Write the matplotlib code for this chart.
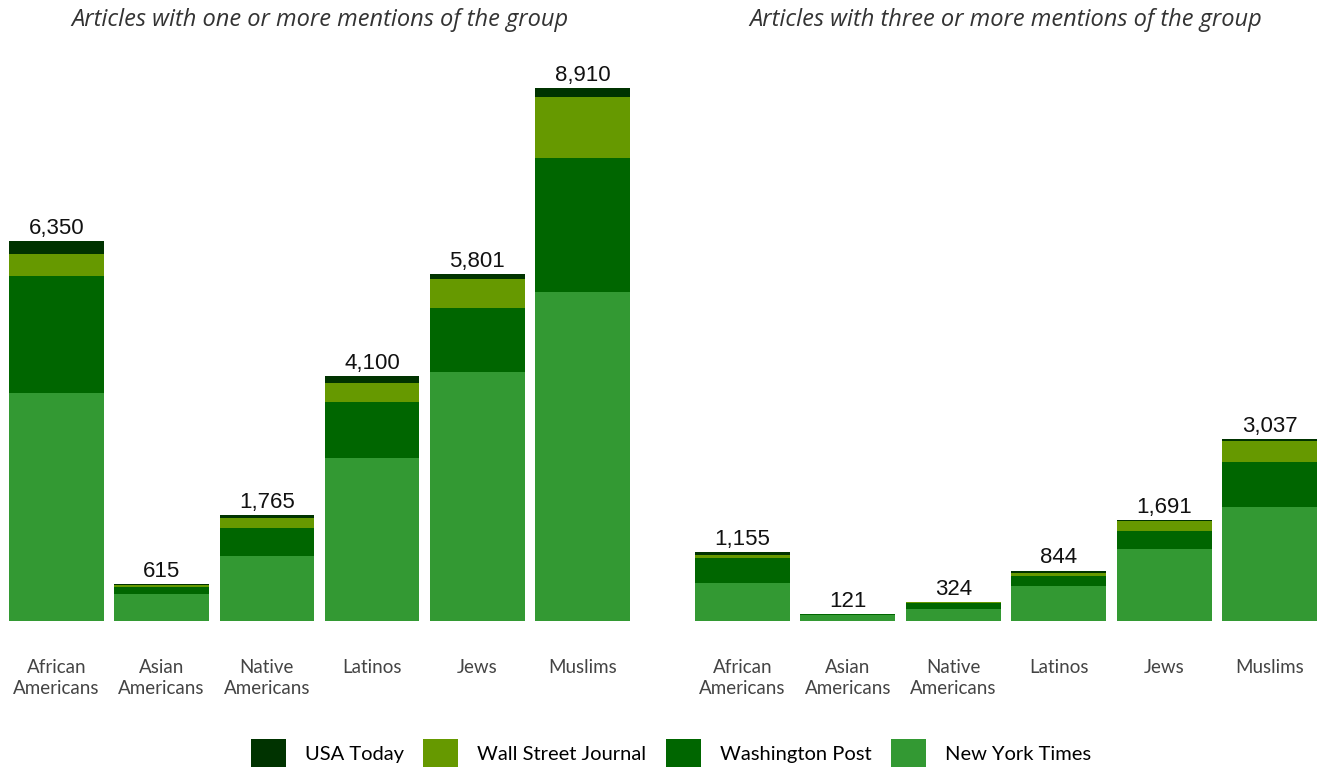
import matplotlib
matplotlib.use("Agg")
import matplotlib.pyplot as plt
from matplotlib.patches import Patch
import numpy as np

groups = ["African\nAmericans", "Asian\nAmericans", "Native\nAmericans", "Latinos", "Jews", "Muslims"]
outlets = ["USA Today", "Wall Street Journal", "Washington Post", "New York Times"]
colors = {"USA Today": "#003300", "Wall Street Journal": "#669900",
          "Washington Post": "#006600", "New York Times": "#339933"}

# Articles with one or more mentions
one_nyt = [3817, 446, 1086, 2721, 4158, 5494]
one_wp = [1948, 122, 475, 948, 1075, 2240]
one_wsj = [374, 30, 160, 310, 492, 1027]
one_usa = [211, 17, 44, 121, 76, 149]
one_total = [6350, 615, 1765, 4100, 5801, 8910]

# Articles with three or more mentions
three_nyt = [635, 100, 194, 590, 1209, 1901]
three_wp = [423, 15, 107, 167, 301, 757]
three_wsj = [50, 4, 15, 50, 157, 346]
three_usa = [47, 2, 8, 37, 24, 33]
three_total = [1155, 121, 324, 844, 1691, 3037]

W, H = 1318, 768
fig = plt.figure(figsize=(W / 100, H / 100), dpi=100)

ymax = 9300
base_px, top_px = 621, 88
px_per_unit = (base_px - top_px) / 8910
ax_h = ymax * px_per_unit

def make_ax(left_px, right_px):
    return fig.add_axes([left_px / W, (H - base_px) / H, (right_px - left_px) / W, ax_h / H])

panels = [
    (make_ax(9, 630), "Articles with one or more mentions of the group",
     [one_nyt, one_wp, one_wsj, one_usa], one_total),
    (make_ax(695, 1317), "Articles with three or more mentions of the group",
     [three_nyt, three_wp, three_wsj, three_usa], three_total),
]

x = np.arange(len(groups))
stack_order = ["New York Times", "Washington Post", "Wall Street Journal", "USA Today"]

for ax, title, series, totals in panels:
    bottom = np.zeros(len(groups))
    for name, vals in zip(stack_order, series):
        ax.bar(x, vals, 0.9, bottom=bottom, color=colors[name], linewidth=0)
        bottom += np.array(vals)
    for xi, tot in zip(x, totals):
        ax.text(xi, tot + 35, f"{tot:,}", ha="center", va="bottom",
                fontsize=16, family="Liberation Sans", color="#111111")
    ax.set_xlim(-0.45, 5.45)
    ax.set_ylim(0, ymax)
    ax.set_yticks([])
    ax.set_xticks(x)
    ax.set_xticklabels(groups, family="Lato", fontsize=13.5, color="#444444", linespacing=1.3)
    ax.tick_params(axis="x", length=0, pad=27.5)
    for s in ax.spines.values():
        s.set_visible(False)
    ax.set_title(title, family="Open Sans", style="italic", fontsize=17, color="#333333",
                 pad=0, y=(base_px - 20) / ax_h, va="center")

handles = [Patch(facecolor=colors[n], edgecolor="none", label=n) for n in outlets]
fig.legend(handles=handles, loc="center", bbox_to_anchor=(671 / W, (H - 753) / H), ncol=4,
           frameon=False, prop={"family": "Lato", "size": 14.5}, handlelength=1.75,
           handleheight=1.75, handletextpad=0.95, columnspacing=0.95)

fig.savefig("out.png", dpi=100, facecolor="white")
